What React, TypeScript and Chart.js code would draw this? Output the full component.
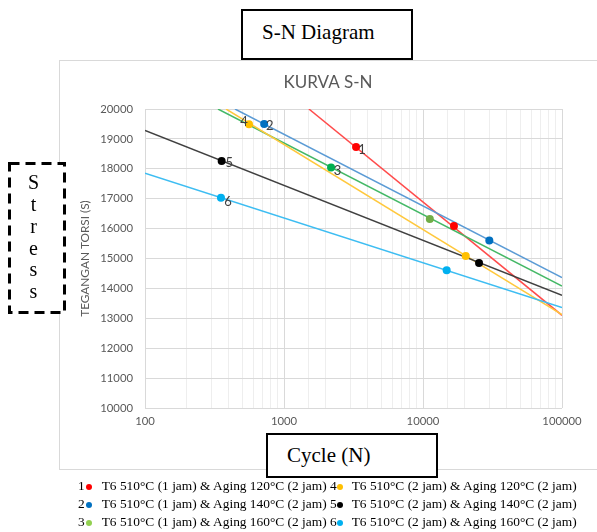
import React, { useEffect, useRef } from "react";
import { Chart, registerables } from "chart.js";
Chart.register(...registerables);

// ---------------- data ----------------
const seriesNumbers = ["1", "2", "3", "4", "5", "6"];
const seriesNames = [
  "T6 510°C (1 jam) & Aging 120°C (2 jam)",
  "T6 510°C (1 jam) & Aging 140°C (2 jam)",
  "T6 510°C (1 jam) & Aging 160°C (2 jam)",
  "T6 510°C (2 jam) & Aging 120°C (2 jam)",
  "T6 510°C (2 jam) & Aging 140°C (2 jam)",
  "T6 510°C (2 jam) & Aging 160°C (2 jam)",
];
const firstCycles = [3300, 720, 2180, 560, 356, 352];
const firstStress = [18730, 19500, 18040, 19490, 18260, 17030];
const secondCycles = [16700, 30000, 11200, 20300, 25300, 14800];
const secondStress = [16090, 15600, 16320, 15080, 14850, 14610];
const trendStartCycles = [1510, 444, 335, 383, 100, 100];
const trendStartStress = [20000, 20000, 20000, 20000, 19280, 17850];
const trendEndCycles = [100000, 100000, 100000, 100000, 100000, 100000];
const trendEndStress = [13100, 14360, 14080, 13120, 13770, 13360];
const xTickLabels = [100, 1000, 10000, 100000];
const yTickMin = 10000;
const yTickMax = 20000;
const yTickStep = 1000;

// ---------------- styles ----------------
const pointColorsA = ["#FF0000", "#0070C0", "#00B050", "#FFC000", "#000000", "#00B0F0"];
const pointColorsB = ["#FF0000", "#0070C0", "#70AD47", "#FFC000", "#000000", "#00B0F0"];
const lineColors = ["#FF4B4B", "#5B9BD5", "#44B866", "#FFC83D", "#404040", "#3DBDF2"];
const legendColors = ["#FF0000", "#0070C0", "#92D050", "#FFC000", "#000000", "#00B0F0"];
const labelOffsets = [
  [6, 3],
  [5.5, 2],
  [6.5, 3],
  [-5, -2],
  [7.5, 2],
  [7, 4],
];

const SERIF = '"Liberation Serif", "Times New Roman", serif';
const SANS = 'Lato, "Open Sans", sans-serif';

const framePlugin = {
  id: "frame",
  beforeDraw(chart: any) {
    const ctx = chart.ctx;
    ctx.save();
    ctx.strokeStyle = "#D9D9D9";
    ctx.lineWidth = 1;
    ctx.strokeRect(59.5, 60.5, 560, 409);
    ctx.restore();
  },
};

const pointLabelPlugin = {
  id: "pointLabels",
  afterDatasetsDraw(chart: any) {
    const ctx = chart.ctx;
    const xs = chart.scales.x;
    const ys = chart.scales.y;
    ctx.save();
    ctx.font = `13px ${SANS}`;
    ctx.fillStyle = "#404040";
    ctx.textAlign = "center";
    ctx.textBaseline = "middle";
    seriesNumbers.forEach((n, i) => {
      const px = xs.getPixelForValue(firstCycles[i]);
      const py = ys.getPixelForValue(firstStress[i]);
      ctx.fillText(n, px + labelOffsets[i][0], py + labelOffsets[i][1]);
    });
    ctx.restore();
  },
};

function isDecade(v: number) {
  return xTickLabels.includes(v);
}

export default function App() {
  const ref = useRef<HTMLCanvasElement | null>(null);

  useEffect(() => {
    if (!ref.current) return;
    const datasets: any[] = [];
    seriesNames.forEach((name, i) => {
      datasets.push({
        label: name + " trend",
        data: [
          { x: trendStartCycles[i], y: trendStartStress[i] },
          { x: trendEndCycles[i], y: trendEndStress[i] },
        ],
        showLine: true,
        borderColor: lineColors[i],
        borderWidth: 1.5,
        pointRadius: 0,
        pointHoverRadius: 0,
        order: 10 - i,
      });
    });
    seriesNames.forEach((name, i) => {
      datasets.push({
        label: name,
        data: [
          { x: firstCycles[i], y: firstStress[i] },
          { x: secondCycles[i], y: secondStress[i] },
        ],
        showLine: false,
        pointRadius: 4,
        pointBackgroundColor: [pointColorsA[i], pointColorsB[i]],
        pointBorderColor: [pointColorsA[i], pointColorsB[i]],
        pointBorderWidth: 0,
        order: 0,
      });
    });

    const chart = new Chart(ref.current, {
      type: "scatter",
      data: { datasets },
      plugins: [framePlugin, pointLabelPlugin],
      options: {
        responsive: false,
        animation: false,
        devicePixelRatio: 1,
        layout: { padding: { left: 59, top: 0, right: 0, bottom: 0 } },
        plugins: {
          legend: { display: false },
          tooltip: { enabled: false },
          title: {
            display: true,
            text: "KURVA S-N",
            color: "#595959",
            font: { family: SANS, size: 17, weight: "normal" },
            padding: { top: 72.8, bottom: 15.8 },
          },
        },
        scales: {
          x: {
            type: "logarithmic",
            min: 100,
            max: 100000,
            border: { display: false },
            grid: {
              drawTicks: false,
              color: (c: any) => (c.tick && isDecade(c.tick.value) ? "#D9D9D9" : "#EEEEEE"),
              lineWidth: 1,
            },
            ticks: {
              autoSkip: false,
              maxRotation: 0,
              padding: 7,
              color: "#595959",
              font: { family: SANS, size: 11.3 },
              callback: (v: any) => (isDecade(Number(v)) ? String(v) : ""),
            },
            afterFit: (s: any) => {
              s.height = 124;
            },
          },
          y: {
            type: "linear",
            min: yTickMin,
            max: yTickMax,
            border: { display: false },
            grid: { drawTicks: false, color: "#D9D9D9", lineWidth: 1 },
            ticks: {
              stepSize: yTickStep,
              padding: 12,
              color: "#595959",
              font: { family: SANS, size: 11.3 },
              callback: (v: any) => String(v),
            },
            title: {
              display: true,
              text: "TEGANGAN TORSI (S)",
              color: "#595959",
              font: { family: SANS, size: 11.8 },
              padding: { top: 19, bottom: 0 },
            },
            afterFit: (s: any) => {
              s.width = 86;
            },
          },
          y2: {
            type: "linear",
            position: "right",
            display: true,
            grid: { display: false, drawTicks: false },
            border: { display: false },
            ticks: { display: false },
            afterFit: (s: any) => {
              s.width = 35;
            },
          },
        },
      } as any,
    });
    return () => chart.destroy();
  }, []);

  const abs: React.CSSProperties = { position: "absolute" };
  const legendRows = [487, 505, 523];

  return (
    <div style={{ position: "absolute", left: 0, top: 0, width: 597, height: 532, background: "#fff", overflow: "hidden" }}>
      <canvas ref={ref} width={597} height={532} style={{ ...abs, left: 0, top: 0, width: 597, height: 532 }} />

      <div
        style={{
          ...abs,
          left: 241,
          top: 9,
          width: 172,
          height: 51,
          boxSizing: "border-box",
          border: "2px solid #000",
          background: "#fff",
          display: "flex",
          alignItems: "center",
          paddingLeft: 19,
          paddingBottom: 4,
          fontFamily: SERIF,
          fontSize: 21,
          color: "#000",
          whiteSpace: "nowrap",
        }}
      >
        S-N Diagram
      </div>

      <svg width={62} height={156} style={{ ...abs, left: 6, top: 160 }}>
        <rect x={3.5} y={3.5} width={55} height={149} fill="#fff" />
        <rect
          x={3.5}
          y={3.5}
          width={55}
          height={149}
          fill="none"
          stroke="#000"
          strokeWidth={3}
          strokeDasharray="10 6"
        />
      </svg>
      <div
        style={{
          ...abs,
          left: 8,
          top: 172.4,
          width: 51,
          textAlign: "center",
          fontFamily: SERIF,
          fontSize: 20,
          lineHeight: "21.7px",
          color: "#000",
        }}
      >
        {"Stress".split("").map((ch, i) => (
          <div key={i}>{ch}</div>
        ))}
      </div>

      <div
        style={{
          ...abs,
          left: 266,
          top: 433,
          width: 172,
          height: 45,
          boxSizing: "border-box",
          border: "2px solid #000",
          background: "#fff",
          display: "flex",
          alignItems: "center",
          paddingLeft: 19,
          fontFamily: SERIF,
          fontSize: 21,
          color: "#000",
          whiteSpace: "nowrap",
        }}
      >
        Cycle (N)
      </div>

      {seriesNames.map((name, i) => {
        const col = i < 3 ? 0 : 1;
        const row = i % 3;
        const numX = col === 0 ? 78 : 330;
        const dotX = col === 0 ? 89.3 : 340;
        const textX = col === 0 ? 101.7 : 351.7;
        const cy = legendRows[row];
        const font: React.CSSProperties = {
          fontFamily: SERIF,
          fontSize: 13.4,
          lineHeight: "18px",
          color: "#000",
          whiteSpace: "nowrap",
        };
        return (
          <React.Fragment key={i}>
            <div style={{ ...abs, ...font, left: numX, top: cy - 10 }}>{seriesNumbers[i]}</div>
            <div
              style={{
                ...abs,
                left: dotX - 3,
                top: cy - 3,
                width: 6,
                height: 6,
                borderRadius: 3,
                background: legendColors[i],
              }}
            />
            <div style={{ ...abs, ...font, left: textX, top: cy - 10 }}>{name}</div>
          </React.Fragment>
        );
      })}
    </div>
  );
}
